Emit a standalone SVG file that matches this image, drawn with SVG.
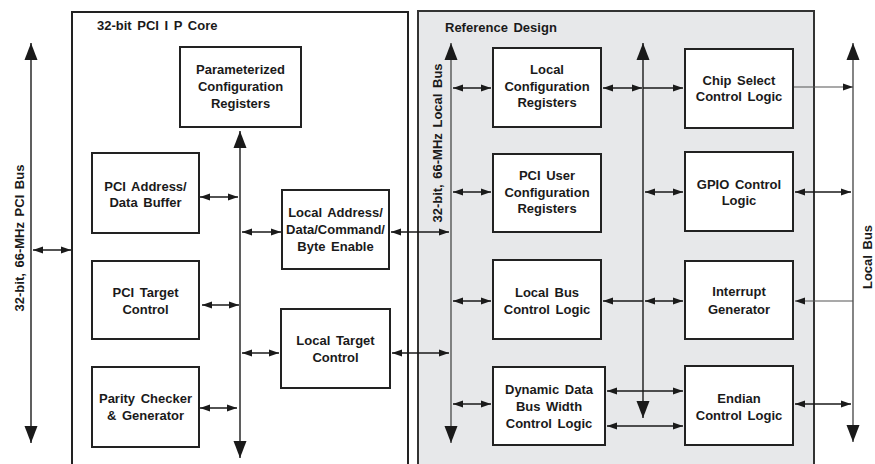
<svg xmlns="http://www.w3.org/2000/svg" width="875" height="464" viewBox="0 0 875 464">
<defs>
<marker id="ah" markerUnits="userSpaceOnUse" markerWidth="11" markerHeight="8" refX="10" refY="3.5" orient="auto-start-reverse" overflow="visible">
<path d="M0,0 L10,3.5 L0,7 z" fill="#1a1a1a"/>
</marker>
<marker id="bh" markerUnits="userSpaceOnUse" markerWidth="18" markerHeight="14" refX="17" refY="6.5" orient="auto-start-reverse" overflow="visible">
<path d="M0,0 L17,6.5 L0,13 z" fill="#1a1a1a"/>
</marker>
</defs>
<style>
text{font-family:"Liberation Sans",Arial,sans-serif;font-weight:bold;font-size:13px;fill:#1a1a1a;word-spacing:2px}
.c{text-anchor:middle}
.box{fill:#fff;stroke:#222;stroke-width:2}
.bus{stroke:#1a1a1a;stroke-width:1.4;fill:none;marker-start:url(#bh);marker-end:url(#bh)}
.gbus{stroke:#666;stroke-width:1.6;fill:none;marker-start:url(#bh);marker-end:url(#bh)}
.dbl{stroke:#1a1a1a;stroke-width:1.3;fill:none;marker-start:url(#ah);marker-end:url(#ah)}
.one{stroke:#1a1a1a;stroke-width:1.3;fill:none;marker-end:url(#ah)}
.gone{stroke:#555;stroke-width:1.2;fill:none;marker-end:url(#ah)}
</style>
<rect width="875" height="464" fill="#fff"/>
<g id="core">
<rect x="72" y="12" width="336" height="470" fill="#fff" stroke="#222" stroke-width="2"/>
<text x="97" y="30">32-bit PCI I P Core</text>
</g>
<g id="refdesign">
<rect x="418" y="11" width="396" height="470" fill="#e7e8ea" stroke="#333" stroke-width="2"/>
<text x="445" y="32">Reference Design</text>
</g>
<g id="connectors">
<line class="bus" x1="31" y1="43" x2="31" y2="443"/>
<line class="bus" x1="240" y1="131" x2="240" y2="458"/>
<line class="gbus" x1="451" y1="43" x2="451" y2="443"/>
<line class="bus" x1="643" y1="43" x2="643" y2="418"/>
<line class="gbus" x1="853" y1="43" x2="853" y2="442"/>
<line class="dbl" x1="33" y1="250" x2="71" y2="250"/>
<line class="dbl" x1="200" y1="197" x2="238" y2="197"/>
<line class="dbl" x1="202" y1="305" x2="239" y2="305"/>
<line class="dbl" x1="200" y1="408" x2="237" y2="408"/>
<line class="dbl" x1="242" y1="232" x2="281" y2="232"/>
<line class="dbl" x1="391" y1="232" x2="449" y2="232"/>
<line class="dbl" x1="242" y1="353" x2="279" y2="353"/>
<line class="dbl" x1="392" y1="353" x2="449" y2="353"/>
<line class="dbl" x1="453" y1="88" x2="491" y2="88"/>
<line class="dbl" x1="453" y1="192" x2="491" y2="192"/>
<line class="dbl" x1="453" y1="301" x2="491" y2="301"/>
<line class="dbl" x1="453" y1="404" x2="491" y2="404"/>
<line class="dbl" x1="603" y1="88" x2="642" y2="88"/>
<line class="one" x1="643" y1="88" x2="683" y2="88"/>
<line class="dbl" x1="645" y1="192" x2="683" y2="192"/>
<line class="dbl" x1="795" y1="192" x2="851" y2="192"/>
<line class="one" x1="643" y1="301" x2="603" y2="301"/>
<line class="dbl" x1="645" y1="301" x2="683" y2="301"/>
<line class="gone" x1="853" y1="301" x2="795" y2="301"/>
<line class="gone" x1="793" y1="87" x2="853" y2="87"/>
<line class="dbl" x1="795" y1="404" x2="851" y2="404"/>
<line class="dbl" x1="607" y1="391" x2="683" y2="391"/>
<line class="dbl" x1="607" y1="426" x2="683" y2="426"/>
</g>
<g id="bus-labels">
<text class="c" transform="translate(24,238) rotate(-90)">32-bit, 66-MHz PCI Bus</text>
<text class="c" transform="translate(442,143) rotate(-90)">32-bit, 66-MHz Local Bus</text>
<text class="c" transform="translate(872,257) rotate(-90)">Local Bus</text>
</g>
<g id="param">
<rect class="box" x="180" y="47" width="121" height="80"/>
<text class="c" x="240.5" y="74">Parameterized</text>
<text class="c" x="240.5" y="91">Configuration</text>
<text class="c" x="240.5" y="108">Registers</text>
</g>
<g id="pciaddr">
<rect class="box" x="92" y="153" width="107" height="80"/>
<text class="c" x="145.5" y="191">PCI Address/</text>
<text class="c" x="145.5" y="207">Data Buffer</text>
</g>
<g id="pcitarget">
<rect class="box" x="92" y="261" width="107" height="78"/>
<text class="c" x="145.5" y="297">PCI Target</text>
<text class="c" x="145.5" y="314">Control</text>
</g>
<g id="parity">
<rect class="box" x="92" y="367" width="107" height="80"/>
<text class="c" x="145.5" y="403">Parity Checker</text>
<text class="c" x="145.5" y="420">&amp; Generator</text>
</g>
<g id="localaddr">
<rect class="box" x="282" y="190" width="107" height="79"/>
<text class="c" x="335.5" y="217">Local Address/</text>
<text class="c" x="335.5" y="234">Data/Command/</text>
<text class="c" x="335.5" y="251">Byte Enable</text>
</g>
<g id="localtarget">
<rect class="box" x="281" y="309" width="109" height="79"/>
<text class="c" x="335.5" y="345">Local Target</text>
<text class="c" x="335.5" y="362">Control</text>
</g>
<g id="localcfg">
<rect class="box" x="493" y="48" width="108" height="79"/>
<text class="c" x="547" y="74">Local</text>
<text class="c" x="547" y="91">Configuration</text>
<text class="c" x="547" y="107">Registers</text>
</g>
<g id="pciuser">
<rect class="box" x="493" y="154" width="108" height="78"/>
<text class="c" x="547" y="180">PCI User</text>
<text class="c" x="547" y="197">Configuration</text>
<text class="c" x="547" y="213">Registers</text>
</g>
<g id="localbusctl">
<rect class="box" x="493" y="260" width="108" height="79"/>
<text class="c" x="547" y="297">Local Bus</text>
<text class="c" x="547" y="314">Control Logic</text>
</g>
<g id="dynbus">
<rect class="box" x="493" y="367" width="112" height="78"/>
<text class="c" x="549" y="394">Dynamic Data</text>
<text class="c" x="549" y="411">Bus Width</text>
<text class="c" x="549" y="428">Control Logic</text>
</g>
<g id="chipsel">
<rect class="box" x="685" y="49" width="108" height="79"/>
<text class="c" x="739" y="85">Chip Select</text>
<text class="c" x="739" y="101">Control Logic</text>
</g>
<g id="gpio">
<rect class="box" x="685" y="152" width="108" height="79"/>
<text class="c" x="739" y="189">GPIO Control</text>
<text class="c" x="739" y="205">Logic</text>
</g>
<g id="interrupt">
<rect class="box" x="685" y="261" width="108" height="78"/>
<text class="c" x="739" y="296">Interrupt</text>
<text class="c" x="739" y="314">Generator</text>
</g>
<g id="endian">
<rect class="box" x="685" y="366" width="108" height="79"/>
<text class="c" x="739" y="403">Endian</text>
<text class="c" x="739" y="420">Control Logic</text>
</g>
</svg>
